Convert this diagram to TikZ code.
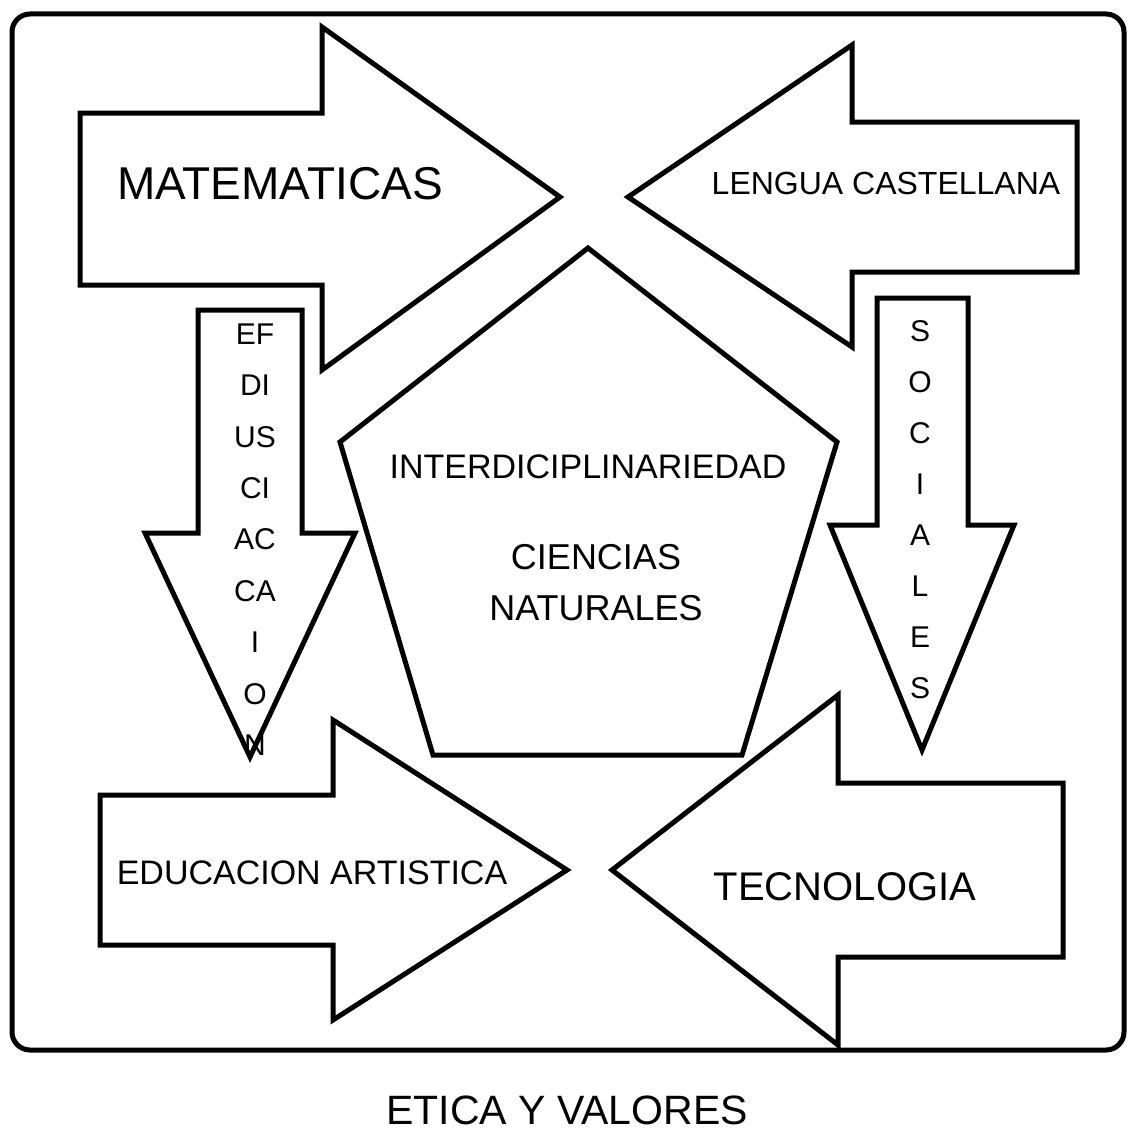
\documentclass[tikz,border=0pt]{standalone}
\usepackage{fontspec}
\setmainfont{Liberation Sans}
\usepackage{tikz}

\begin{document}
\begin{tikzpicture}[x=1pt, y=-1pt,
    flecha/.style={draw, line width=5pt, fill=white, line join=miter},
    texto/.style={inner sep=0pt, anchor=center}]
  \useasboundingbox (0,0) rectangle (1130,1140);

  % Marco
  \draw[line width=5pt, rounded corners=18pt] (12,14) rectangle (1124,1050);

  % Flechas horizontales
  \draw[flecha] (80,113) -- (322,113) -- (322,27) -- (560,197) -- (322,370) -- (322,285) -- (80,285) -- cycle;
  \draw[flecha] (1077,122) -- (852,122) -- (852,45) -- (628,197) -- (852,347) -- (852,272) -- (1077,272) -- cycle;
  \draw[flecha] (100,795) -- (333,795) -- (333,720) -- (567,870) -- (333,1020) -- (333,945) -- (100,945) -- cycle;
  \draw[flecha] (1063,783) -- (838,783) -- (838,695) -- (612,870) -- (838,1045) -- (838,957) -- (1063,957) -- cycle;

  % Flechas verticales
  \draw[flecha] (198,310) -- (302,310) -- (302,533) -- (355,533) -- (250,757) -- (145,533) -- (198,533) -- cycle;
  \draw[flecha] (877,298) -- (968,298) -- (968,525) -- (1014,525) -- (922,750) -- (830,525) -- (877,525) -- cycle;

  % Pentagono
  \draw[flecha] (588,248) -- (837,442) -- (742,755) -- (433,755) -- (340,442) -- cycle;

  % Textos
  \node[texto, font=\fontsize{46}{46}\selectfont] (matematicas) at (280,184) {MATEMATICAS};
  \node[texto, font=\fontsize{32}{32}\selectfont] (lengua) at (886,183) {LENGUA CASTELLANA};
  \node[texto, font=\fontsize{34}{34}\selectfont] (inter) at (588,467) {INTERDICIPLINARIEDAD};
  \node[texto, font=\fontsize{36}{36}\selectfont] (ciencias) at (596,557) {CIENCIAS};
  \node[texto, font=\fontsize{36}{36}\selectfont] (naturales) at (596,608) {NATURALES};
  \node[texto, font=\fontsize{34}{34}\selectfont] (artistica) at (312,873) {EDUCACION ARTISTICA};
  \node[texto, font=\fontsize{40}{40}\selectfont] (tecnologia) at (845,887) {TECNOLOGIA};
  \node[texto, font=\fontsize{41}{41}\selectfont] (etica) at (567,1110) {ETICA Y VALORES};

  % Letras verticales
  \foreach \t [count=\i from 0] in {EF,DI,US,CI,AC,CA,I,O,N}
    \node[texto, font=\fontsize{30}{30}\selectfont] (fisica\i) at (255,334+51.4*\i) {\t};
  \foreach \t [count=\i from 0] in {S,O,C,I,A,L,E,S}
    \node[texto, font=\fontsize{30}{30}\selectfont] (sociales\i) at (920,331+51*\i) {\t};
\end{tikzpicture}
\end{document}
